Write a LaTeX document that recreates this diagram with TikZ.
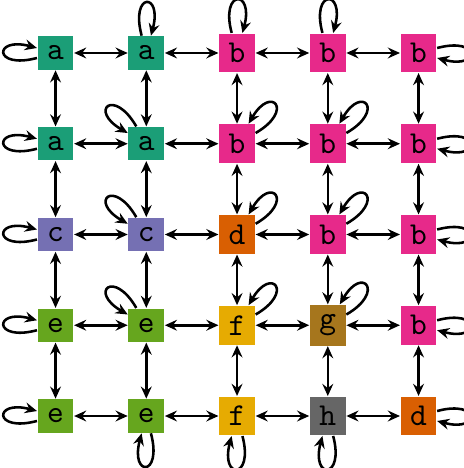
\documentclass[tikz,border=0pt]{standalone}
\usetikzlibrary{arrows.meta}
% Dark2 palette
\definecolor{ca}{HTML}{1B9E77}
\definecolor{cb}{HTML}{E7298A}
\definecolor{cc}{HTML}{7570B3}
\definecolor{cd}{HTML}{D95F02}
\definecolor{ce}{HTML}{66A61E}
\definecolor{cf}{HTML}{E6AB02}
\definecolor{cg}{HTML}{A6761D}
\definecolor{ch}{HTML}{666666}
\tikzset{
  tip/.tip={Stealth[length=3.8pt,width=3.4pt,inset=1.3pt]},
  cell/.style={fill=#1, inner sep=3pt, font=\ttfamily},
  link/.style={line width=0.8pt, tip-tip},
  selfloop/.style={line width=0.8pt, -tip, looseness=8, min distance=5mm},
}
\begin{document}
\begin{tikzpicture}
\useasboundingbox (-0.612,0.584) rectangle (4.490,-4.573);
% grid of states
\node[cell=ca] (n00) at (0,0) {a};
\node[cell=ca] (n01) at (1,0) {a};
\node[cell=cb] (n02) at (2,0) {b};
\node[cell=cb] (n03) at (3,0) {b};
\node[cell=cb] (n04) at (4,0) {b};
\node[cell=ca] (n10) at (0,-1) {a};
\node[cell=ca] (n11) at (1,-1) {a};
\node[cell=cb] (n12) at (2,-1) {b};
\node[cell=cb] (n13) at (3,-1) {b};
\node[cell=cb] (n14) at (4,-1) {b};
\node[cell=cc] (n20) at (0,-2) {c};
\node[cell=cc] (n21) at (1,-2) {c};
\node[cell=cd] (n22) at (2,-2) {d};
\node[cell=cb] (n23) at (3,-2) {b};
\node[cell=cb] (n24) at (4,-2) {b};
\node[cell=ce] (n30) at (0,-3) {e};
\node[cell=ce] (n31) at (1,-3) {e};
\node[cell=cf] (n32) at (2,-3) {f};
\node[cell=cg] (n33) at (3,-3) {g};
\node[cell=cb] (n34) at (4,-3) {b};
\node[cell=ce] (n40) at (0,-4) {e};
\node[cell=ce] (n41) at (1,-4) {e};
\node[cell=cf] (n42) at (2,-4) {f};
\node[cell=ch] (n43) at (3,-4) {h};
\node[cell=cd] (n44) at (4,-4) {d};
% horizontal and vertical transitions
\foreach \r in {0,...,4}{
  \foreach \c/\d in {0/1,1/2,2/3,3/4}{
    \draw[link] (n\r\c) -- (n\r\d);
    \draw[link] (n\c\r) -- (n\d\r);
  }
}
% self transitions
\foreach \r in {0,...,4}{
  \draw[selfloop] (n\r0) to[out=195,in=165] (n\r0);
}
\foreach \r in {0,...,4}{
  \draw[selfloop] (n\r4) to[out=15,in=-15] (n\r4);
}
\foreach \c in {1,2,3}{
  \draw[selfloop] (n0\c) to[out=105,in=75] (n0\c);
  \draw[selfloop] (n4\c) to[out=285,in=255] (n4\c);
}
\foreach \r in {1,2,3}{
  \draw[selfloop] (n\r1) to[out=120,in=150] (n\r1);
}
\foreach \n in {12,13,22,23,32,33}{
  \draw[selfloop] (n\n) to[out=30,in=60] (n\n);
}
\end{tikzpicture}
\end{document}
